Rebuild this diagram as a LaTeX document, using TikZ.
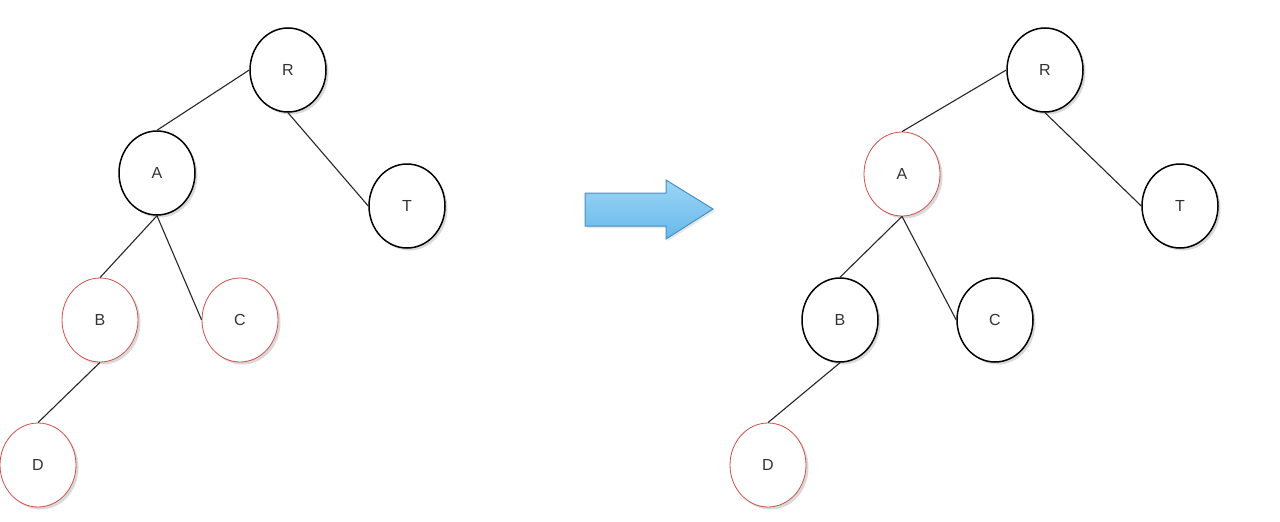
\documentclass[tikz,border=0pt]{standalone}
\usepackage{fontspec}
\setmainfont{Liberation Sans}
\usetikzlibrary{shapes.geometric,shadows}
\definecolor{redline}{HTML}{D0504A}
\definecolor{arrowtop}{HTML}{9CD6F6}
\definecolor{arrowbottom}{HTML}{66B8EA}
\definecolor{arrowdraw}{HTML}{4A8FC0}
\begin{document}
\begin{tikzpicture}[x=1pt,y=-1pt,
  treenode/.style={ellipse,draw=black,line width=1.5pt,fill=white,minimum width=76pt,minimum height=84pt,inner sep=0pt,font=\fontsize{16}{16}\selectfont,text=black!80,drop shadow={opacity=0.3,shadow xshift=2.5pt,shadow yshift=-2.5pt}},
  rednode/.style={treenode,draw=redline,line width=0.8pt},
  edge/.style={draw=black!85,line width=1.1pt}]
\useasboundingbox (0,0) rectangle (1280,522);
% left tree
\node[treenode] (R1) at (288,70) {R};
\node[treenode] (A1) at (157,173) {A};
\node[treenode] (T1) at (407,206) {T};
\node[rednode] (B1) at (100,320) {B};
\node[rednode] (C1) at (240,320) {C};
\node[rednode] (D1) at (38,465) {D};
\draw[edge] (R1.west) -- (A1.north);
\draw[edge] (R1.south) -- (T1.west);
\draw[edge] (A1.south) -- (B1.north);
\draw[edge] (A1.south) -- (C1.west);
\draw[edge] (B1.south) -- (D1.north);
% right tree
\node[treenode] (R2) at (1045,70) {R};
\node[rednode] (A2) at (902,174) {A};
\node[treenode] (T2) at (1180,206) {T};
\node[treenode] (B2) at (840,320) {B};
\node[treenode] (C2) at (995,320) {C};
\node[rednode] (D2) at (768,465) {D};
\draw[edge] (R2.west) -- (A2.north);
\draw[edge] (R2.south) -- (T2.west);
\draw[edge] (A2.south) -- (B2.north);
\draw[edge] (A2.south) -- (C2.west);
\draw[edge] (B2.south) -- (D2.north);
% arrow
\draw[top color=arrowtop,bottom color=arrowbottom,draw=arrowdraw,line width=1pt,drop shadow={opacity=0.2,shadow xshift=2pt,shadow yshift=-2pt}]
  (585,193) -- (666,193) -- (666,180) -- (713,209) -- (666,239) -- (666,226) -- (585,226) -- cycle;
\end{tikzpicture}
\end{document}
